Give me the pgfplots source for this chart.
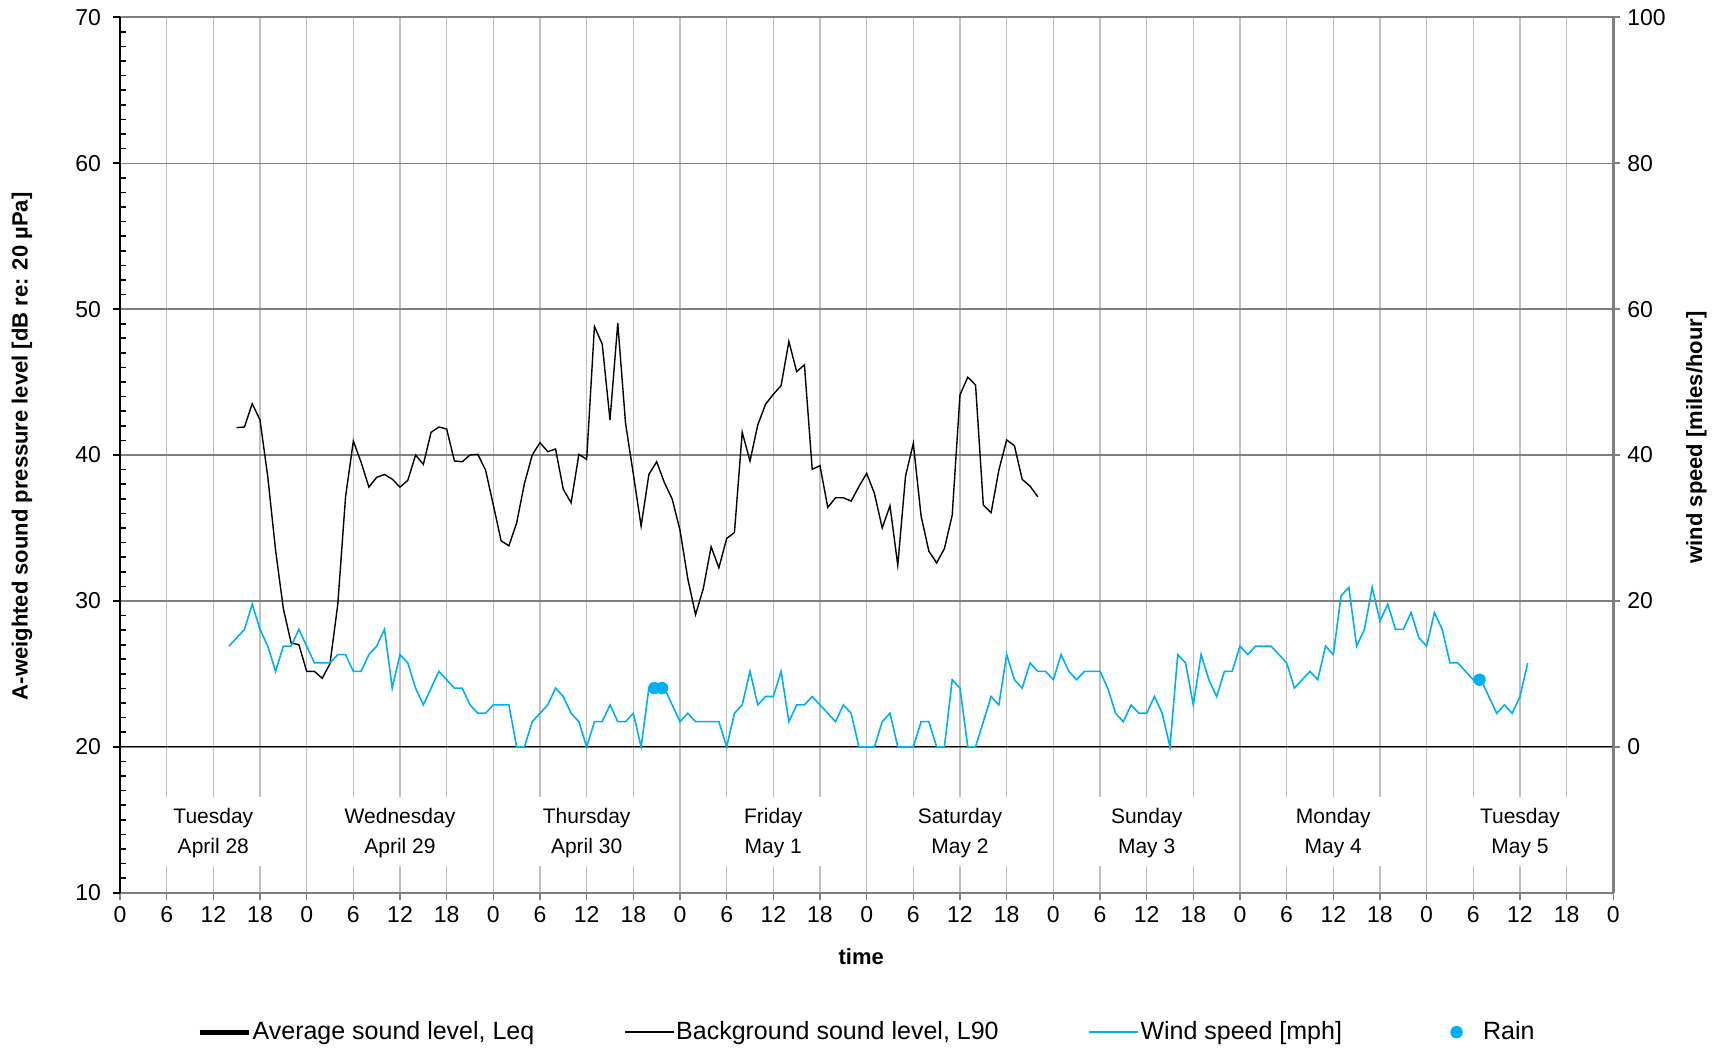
\documentclass[border=0pt]{standalone}
\usepackage{pgfplots}
\usepackage{pgfplotstable}
\pgfplotsset{compat=1.18}
\usepackage{fontspec}
\setmainfont{Liberation Sans}
\definecolor{windblue}{HTML}{00B0F0}
\definecolor{gridv}{HTML}{BFBFBF}
\definecolor{gridh}{HTML}{7F7F7F}

\pgfplotstableread{
h l
15 41.88
16 41.92
17 43.52
18 42.40
19 38.50
20 33.48
21 29.47
22 27.12
23 27.00
24 25.17
25 25.17
26 24.70
27 25.70
28 29.77
29 37.14
30 40.96
31 39.50
32 37.80
33 38.47
34 38.67
35 38.35
36 37.80
37 38.26
38 40.00
39 39.36
40 41.56
41 41.92
42 41.78
43 39.59
44 39.54
45 40.00
46 40.05
47 38.97
48 36.57
49 34.12
50 33.78
51 35.35
52 38.05
53 40.00
54 40.85
55 40.23
56 40.41
57 37.64
58 36.73
59 40.05
60 39.70
61 48.81
62 47.60
63 42.40
64 49.04
65 42.17
66 38.70
67 35.13
68 38.67
69 39.54
70 38.10
71 36.98
72 34.85
73 31.53
74 29.06
75 30.85
76 33.71
77 32.27
78 34.28
79 34.69
80 41.56
81 39.59
82 42.06
83 43.48
84 44.16
85 44.76
86 47.78
87 45.72
88 46.18
89 39.02
90 39.27
91 36.41
92 37.07
93 37.07
94 36.84
95 37.83
96 38.74
97 37.37
98 35.00
99 36.52
100 32.45
101 38.56
102 40.80
103 35.81
104 33.41
105 32.61
106 33.59
107 35.88
108 44.12
109 45.33
110 44.81
111 36.57
112 36.04
113 38.97
114 41.03
115 40.64
116 38.33
117 37.87
118 37.14
}\lninety

\pgfplotstableread{
h w
14 13.80
15 14.95
16 16.10
17 19.55
18 16.10
19 13.80
20 10.35
21 13.80
22 13.80
23 16.10
24 13.80
25 11.50
26 11.50
27 11.50
28 12.65
29 12.65
30 10.35
31 10.35
32 12.65
33 13.80
34 16.10
35 8.05
36 12.65
37 11.50
38 8.05
39 5.75
40 8.05
41 10.35
42 9.20
43 8.05
44 8.05
45 5.75
46 4.60
47 4.60
48 5.75
49 5.75
50 5.75
51 0
52 0
53 3.45
54 4.60
55 5.75
56 8.05
57 6.90
58 4.60
59 3.45
60 0
61 3.45
62 3.45
63 5.75
64 3.45
65 3.45
66 4.60
67 0
68 8.05
69 8.05
70 8.05
71 5.75
72 3.45
73 4.60
74 3.45
75 3.45
76 3.45
77 3.45
78 0
79 4.60
80 5.75
81 10.35
82 5.75
83 6.90
84 6.90
85 10.35
86 3.45
87 5.75
88 5.75
89 6.90
90 5.75
91 4.60
92 3.45
93 5.75
94 4.60
95 0
96 0
97 0
98 3.45
99 4.60
100 0
101 0
102 0
103 3.45
104 3.45
105 0
106 0
107 9.20
108 8.05
109 0
110 0
111 3.45
112 6.90
113 5.75
114 12.65
115 9.20
116 8.05
117 11.50
118 10.35
119 10.35
120 9.20
121 12.65
122 10.35
123 9.20
124 10.35
125 10.35
126 10.35
127 8.05
128 4.60
129 3.45
130 5.75
131 4.60
132 4.60
133 6.90
134 4.60
135 0
136 12.65
137 11.50
138 5.75
139 12.65
140 9.20
141 6.90
142 10.35
143 10.35
144 13.80
145 12.65
146 13.80
147 13.80
148 13.80
149 12.65
150 11.50
151 8.05
152 9.20
153 10.35
154 9.20
155 13.80
156 12.65
157 20.70
158 21.85
159 13.80
160 16.10
161 21.85
162 17.25
163 19.55
164 16.10
165 16.10
166 18.40
167 14.95
168 13.80
169 18.40
170 16.10
171 11.50
172 11.50
173 10.35
174 9.20
175 9.20
176 6.90
177 4.60
178 5.75
179 4.60
180 6.90
181 11.50
}\wind

\pgfplotstableread{
h w
68.7 8.05
69.7 8.05
174.8 9.20
}\rain

\pgfplotsset{
  base/.style={
    width=746.5pt, height=437.65pt, scale only axis,
    xmin=0, xmax=192,
    /pgf/number format/assume math mode=true,
    tick label style={font=\fontsize{11.5}{13}\selectfont},
    label style={font=\bfseries\fontsize{11}{13}\selectfont},
    tick align=outside,
    major tick length=3.5pt,
    minor tick length=3pt,
  },
  legend image code/.code={\path (0pt,0pt) (24.5pt,0pt);\draw[mark repeat=2,mark phase=2,#1] plot coordinates {(0pt,0pt) (12.25pt,0pt) (24.5pt,0pt)};},
}

\begin{document}
\begin{tikzpicture}
\begin{axis}[base, name=main,
  ymin=10, ymax=70, ytick={10,20,...,70},
  minor y tick num=9,
  xtick={0,6,...,192},
  xticklabel={\pgfmathtruncatemacro\hh{mod(round(\tick),24)}\hh},
  axis x line*=box, axis y line*=left, separate axis lines,
  xtick pos=bottom,
  x axis line style={draw=gridh, line width=1.1pt},
  y axis line style={draw=black, line width=1.1pt},
  x tick style={draw=gridh, line width=0.7pt},
  y tick style={draw=black, line width=0.8pt},
  minor y tick style={xshift=3pt},
  xmajorgrids, ymajorgrids,
  x grid style={draw=gridv, line width=0.75pt},
  y grid style={draw=gridh, line width=0.7pt},
  yticklabel style={xshift=-2.5pt},
  xlabel={time},
  x label style={at={(axis description cs:0.5,0)}, anchor=center, yshift=-31.7pt, xshift=-2.7pt},
  ylabel={A-weighted sound pressure level [dB re: 20 µPa]},
  y label style={at={(axis description cs:-0.0656,0.51)}, anchor=center},
]
\draw[black, line width=0.6pt] (axis cs:0,20) -- (axis cs:192,20);
\fill[white] (axis cs:5.4,11.82) rectangle (axis cs:18.6,16.55);
\fill[white] (axis cs:29.4,11.82) rectangle (axis cs:42.6,16.55);
\fill[white] (axis cs:53.4,11.82) rectangle (axis cs:66.6,16.55);
\fill[white] (axis cs:77.4,11.82) rectangle (axis cs:90.6,16.55);
\fill[white] (axis cs:101.4,11.82) rectangle (axis cs:114.6,16.55);
\fill[white] (axis cs:125.4,11.82) rectangle (axis cs:138.6,16.55);
\fill[white] (axis cs:149.4,11.82) rectangle (axis cs:162.6,16.55);
\fill[white] (axis cs:173.4,11.82) rectangle (axis cs:186.6,16.55);
\begin{scope}[every node/.style={align=center, font=\fontsize{10.5}{15.2}\selectfont}]
\node at (axis cs:12,14.1) {Tuesday\\April 28};
\node at (axis cs:36,14.1) {Wednesday\\April 29};
\node at (axis cs:60,14.1) {Thursday\\April 30};
\node at (axis cs:84,14.1) {Friday\\May 1};
\node at (axis cs:108,14.1) {Saturday\\May 2};
\node at (axis cs:132,14.1) {Sunday\\May 3};
\node at (axis cs:156,14.1) {Monday\\May 4};
\node at (axis cs:180,14.1) {Tuesday\\May 5};
\end{scope}
\addplot[black, line width=0.7pt, mark=none, forget plot] table[x=h, y=l] {\lninety};
\end{axis}

\begin{axis}[base,
  ymin=-20, ymax=100, ytick={0,20,...,100},
  axis y line*=right, axis x line=none,
  y axis line style={draw=gridh, line width=1.3pt},
  y tick style={draw=gridh, line width=0.8pt},
  ylabel={wind speed [miles/hour]},
  y label style={at={(axis description cs:1.0556,0.52)}, anchor=center},
  legend columns=4,
  legend style={at={(axis description cs:0.5,0)}, anchor=center, yshift=-69.7pt,
    draw=none, fill=none, font=\fontsize{12.5}{15}\selectfont,
    nodes={inner sep=0.8pt},
    /tikz/every even column/.append style={column sep=44pt}},
]
\addlegendimage{black, line width=2.4pt}
\addlegendentry{Average sound level, Leq}
\addlegendimage{black, line width=0.8pt}
\addlegendentry{Background sound level, L90}
\addplot[windblue, line width=0.8pt, mark=none] table[x=h, y=w] {\wind};
\addlegendentry{Wind speed [mph]}
\addplot[only marks, mark=*, mark size=2.9pt, windblue, mark options={draw=none, fill=windblue}] table[x=h, y=w] {\rain};
\addlegendentry{Rain}
\end{axis}
\pgfresetboundingbox
\path[use as bounding box] ([shift={(-60pt,-78.2pt)}]main.south west) rectangle ([shift={(52.85pt,8.65pt)}]main.north east);
\end{tikzpicture}
\end{document}
